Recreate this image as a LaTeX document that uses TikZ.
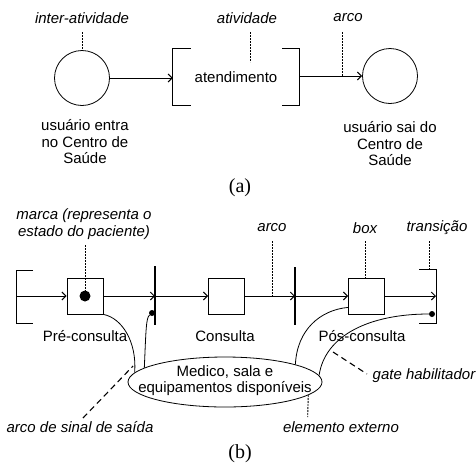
\documentclass[tikz,border=0pt]{standalone}
\usepackage{fontspec}
\setmainfont{Liberation Sans}
\newfontfamily\capfont{Liberation Serif}
\usetikzlibrary{arrows.meta,shapes.geometric}
\begin{document}
\begin{tikzpicture}[x=1pt,y=-1pt,
  txt/.style={inner sep=0pt, align=center, font=\fontsize{15}{16.5}\selectfont},
  note/.style={inner sep=0pt, align=center, font=\fontsize{15}{17.5}\selectfont\itshape},
  figcap/.style={inner sep=0pt, font=\capfont\fontsize{20}{22}\selectfont},
  place/.style={draw, circle, line width=0.8pt, minimum size=55pt, inner sep=0pt},
  boxnode/.style={draw, rectangle, line width=0.8pt, minimum size=36pt, inner sep=0pt},
  flow/.style={line width=1pt, -{Straight Barb[length=4pt,width=8pt,line width=1pt]}},
  bracket/.style={line width=1pt},
  bar/.style={line width=1.6pt},
  pointer/.style={line width=0.9pt, dash pattern=on 2pt off 1pt},
  leader/.style={line width=1.1pt, dash pattern=on 6pt off 4pt},
  signal/.style={line width=0.8pt},
  dotbig/.style={circle, fill, inner sep=0pt, minimum size=11pt},
  dotsmall/.style={circle, fill, inner sep=0pt, minimum size=6pt},
]
\useasboundingbox (0,0) rectangle (476,464);

% ---------------- (a) ----------------
\node[place] (in) at (82,78) {};
\node[place] (out) at (390,76) {};
\node[txt, minimum width=126pt, minimum height=56pt] (act) at (236,77) {atendimento};
\draw[bracket] ([xshift=18pt]act.north west) -- (act.north west) -- (act.south west) -- ([xshift=18pt]act.south west);
\draw[bracket] ([xshift=-17pt]act.north east) -- (act.north east) -- (act.south east) -- ([xshift=-17pt]act.south east);

\draw[flow] (in.east) -- (in.east -| act.west);
\draw[flow] (act.east |- out.west) -- (out.west);

\node[note] (lIn) at (82,18) {inter-atividade};
\node[note] (lAct) at (247,18) {atividade};
\node[note] (lArcA) at (348,18) {arco};
\coordinate (actTip) at (250,62);
\coordinate (arcA) at (342,76);
\draw[pointer] (82,32) -- (in.north);
\draw[pointer] (250,32) -- (actTip);
\draw[pointer] (342,32) -- (arcA);

\node[txt] (inTxt) at (85,142) {usuário entra\\no Centro de\\Saúde};
\node[txt] (outTxt) at (390,144) {usuário sai do\\Centro de\\Saúde};

\node[figcap] (capA) at (240,187.5) {(a)};

% ---------------- (b) ----------------
\coordinate (src) at (16,296);
\draw[bracket] (33,270) -- (16,270) -- (16,323) -- (33,323);
\node[boxnode] (pre) at (85,296) {};
\node[dotbig] (mark) at (85,296) {};
\coordinate (t1) at (155,296);
\draw[bar] (155,266) -- (155,325);
\node[boxnode] (con) at (226.5,296) {};
\coordinate (t2) at (295,296);
\draw[bar] (295,267) -- (295,325);
\node[boxnode] (pos) at (366.5,296) {};
\coordinate (t3) at (436,296);
\draw[bracket] (419,269) -- (436,269) -- (436,323) -- (419,323);

\draw[flow] (src) -- (pre.west);
\draw[flow] (pre.east) -- (t1);
\draw[flow] (t1) -- (con.west);
\draw[flow] (con.east) -- (t2);
\draw[flow] (t2) -- (pos.west);
\draw[flow] (pos.east) -- (t3);

\node[dotsmall] (g1) at (152,313) {};
\node[dotsmall] (g3) at (432,314) {};

\node[txt] (lPre) at (85,336) {Pré-consulta};
\node[txt] (lCon) at (225,336) {Consulta};
\node[txt] (lPos) at (362,336) {Pós-consulta};

% external element
\node[draw, ellipse, line width=0.8pt, minimum width=194pt, minimum height=50pt, inner sep=0pt] (ext) at (225,382) {};
\node[txt] (extTxt) at (225,380.5) {Medico, sala e\\equipamentos disponíveis};

% signal arcs between the external element and the activities
\draw[signal] (pre.south east) .. controls (122,318) and (137,342) .. (ext.174);
\draw[signal] (g1) .. controls (146,318) and (146,330) .. (ext.170);
\draw[signal] ([yshift=7pt]pos.south west) .. controls (320,310) and (297,330) .. (ext.14);
\draw[signal] (g3) .. controls (370,314) and (325,335) .. (ext.4.5);

% annotations of part (b)
\node[note] (lMark) at (84,224) {marca (representa o\\estado do paciente)};
\node[note] (lArcB) at (272,228) {arco};
\node[note] (lBox) at (365,228) {box};
\node[note] (lTr) at (437,228) {transição};
\draw[pointer] (85,245) -- (mark);
\coordinate (arcB) at (272,296);
\draw[pointer] (272,241) -- (arcB);
\coordinate (boxTop) at (365,278);
\draw[pointer] (365,241) -- (boxTop);
\coordinate (trTop) at (429,269);
\draw[pointer] (429,241) -- (trTop);

\node[note] (lSig) at (80,427) {arco de sinal de saída};
\node[note] (lExt) at (341,427) {elemento externo};
\node[note] (lGate) at (424,376) {gate habilitador};
\coordinate (sigEnd) at (133,366);
\draw[leader] (83,418) -- (sigEnd);
\coordinate (extFoot) at (307.7,417);
\draw[pointer] (ext.-9) -- (extFoot);
\coordinate (gateStart) at (333,352);
\draw[leader] (gateStart) -- (367,374);

\node[figcap] (capB) at (240,454) {(b)};
\end{tikzpicture}
\end{document}
